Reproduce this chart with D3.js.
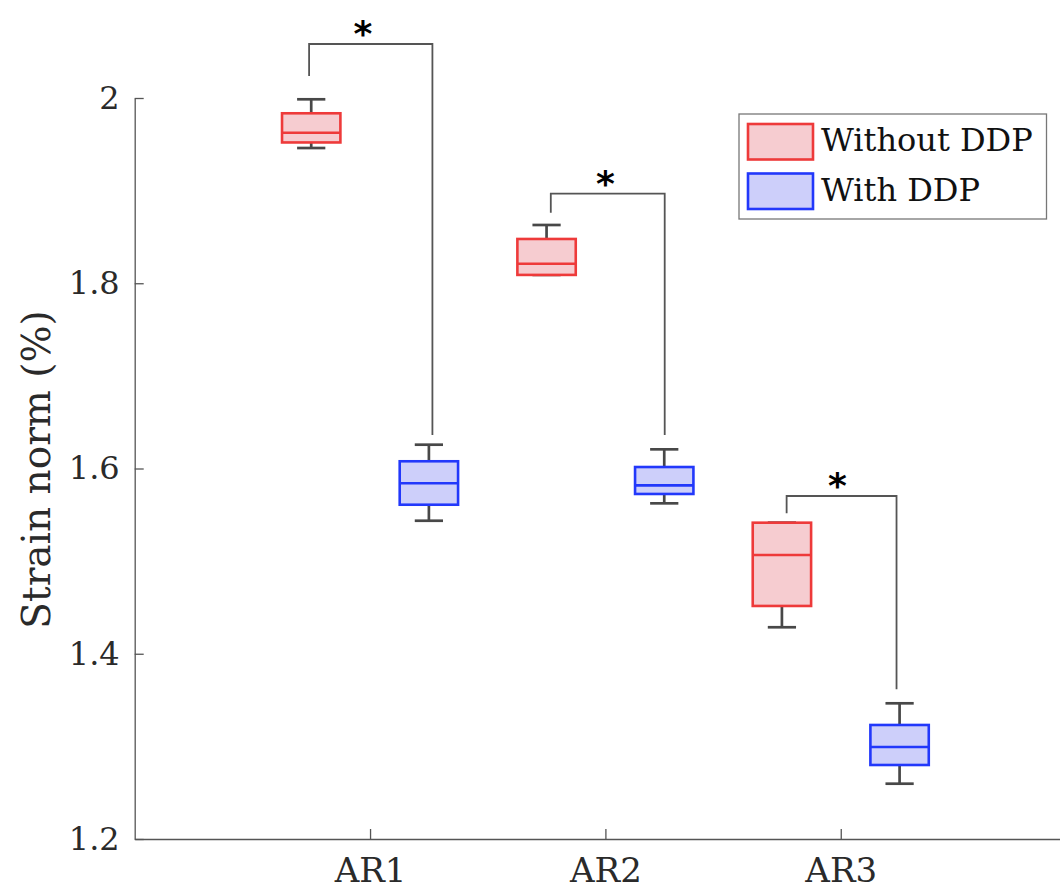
<!DOCTYPE html>
<html>
<head>
<meta charset="utf-8">
<script src="https://cdn.jsdelivr.net/npm/d3@7"></script>
<style>
  html, body { margin: 0; padding: 0; background: #fff; }
  svg { display: block; }
</style>
</head>
<body>
<svg id="chart" width="1060" height="890"></svg>
<script>
// ---- data ----
const categories = ["AR1", "AR2", "AR3"];
const seriesNames = ["Without DDP", "With DDP"];
// [lower whisker, Q1, median, Q3, upper whisker]
const withoutDDP = [
  [1.946, 1.952, 1.9625, 1.9835, 1.9986],
  [1.809, 1.809, 1.8211, 1.8478, 1.8629],
  [1.4286, 1.4516, 1.5066, 1.5415, 1.5415]
];
const withDDP = [
  [1.5436, 1.5609, 1.5840, 1.6078, 1.6257],
  [1.5624, 1.5725, 1.5818, 1.6016, 1.6207],
  [1.2597, 1.2799, 1.2993, 1.3231, 1.3465]
];
const yTicks = [1.2, 1.4, 1.6, 1.8, 2];
// significance brackets: x left, x right, top y, left end y, right end y, star x
const bracketLeft = [0.741, 1.768, 2.770];
const bracketRight = [1.265, 2.252, 3.237];
const bracketTop = [2.0583, 1.8967, 1.5703];
const bracketLeftEnd = [2.0238, 1.8762, 1.5516];
const bracketRightEnd = [1.6362, 1.6362, 1.3616];
const starX = [0.970, 2.0, 2.986];
const starLabel = "*";
const yLabel = "Strain norm (%)";

// ---- layout ----
const svg = d3.select("#chart");
const x = d3.scaleLinear().domain([0, 4]).range([134.7, 1076.1]);
const y = d3.scaleLinear().domain([1.2, 2]).range([839, 98]);
const offset = 0.25, boxW = 0.248, capW = 0.12;
const colors = [
  { edge: "#ee3a3a", fill: "#f6ccd0" },
  { edge: "#2238fb", fill: "#cdcffa" }
];
const serif = "'DejaVu Serif', 'Liberation Serif', serif";
const axisColor = "#555";

// axes
const yAxis = d3.axisLeft(y).tickValues(yTicks).tickFormat(d3.format("~g"))
  .tickSizeInner(-9).tickSizeOuter(0).tickPadding(16);
const gy = svg.append("g").attr("transform", `translate(${x(0)},0)`).call(yAxis);
gy.select(".domain").attr("stroke", axisColor).attr("stroke-width", 1.3);
gy.selectAll(".tick line").attr("stroke", axisColor).attr("stroke-width", 1.3);
gy.selectAll(".tick text").attr("font-family", serif).attr("font-size", 32)
  .attr("fill", "#2a2a2a").attr("x", -15);

const xAxis = d3.axisBottom(x).tickValues([1, 2, 3]).tickFormat(d => categories[d - 1])
  .tickSizeInner(-10).tickSizeOuter(0).tickPadding(0);
const gx = svg.append("g").attr("transform", `translate(0,${y(1.2)})`).call(xAxis);
gx.select(".domain").attr("stroke", axisColor).attr("stroke-width", 1.3);
gx.selectAll(".tick line").attr("stroke", axisColor).attr("stroke-width", 1.3);
gx.selectAll(".tick text").attr("font-family", serif).attr("font-size", 34)
  .attr("fill", "#2a2a2a").attr("y", 43).attr("dy", null);

// y label
svg.append("text")
  .attr("transform", `translate(50,${(y(1.2) + y(2)) / 2 + 1}) rotate(-90)`)
  .attr("text-anchor", "middle")
  .attr("font-family", serif).attr("font-size", 39).attr("fill", "#2a2a2a")
  .text(yLabel);

// brackets
categories.forEach((c, i) => {
  const path = d3.path();
  path.moveTo(x(bracketLeft[i]), y(bracketLeftEnd[i]));
  path.lineTo(x(bracketLeft[i]), y(bracketTop[i]));
  path.lineTo(x(bracketRight[i]), y(bracketTop[i]));
  path.lineTo(x(bracketRight[i]), y(bracketTop[i]) + 0);
  path.lineTo(x(bracketRight[i]), y(bracketRightEnd[i]));
  svg.append("path").attr("d", path.toString()).attr("fill", "none")
    .attr("stroke", "#555").attr("stroke-width", 1.8);
  svg.append("text")
    .attr("x", x(starX[i])).attr("y", y(bracketTop[i]) + 2)
    .attr("text-anchor", "middle")
    .attr("font-family", "'DejaVu Sans', sans-serif").attr("font-weight", "bold")
    .attr("font-size", 36).attr("fill", "#000")
    .text(starLabel);
});

// boxes
[withoutDDP, withDDP].forEach((series, s) => {
  series.forEach((st, i) => {
    const cx = (i + 1) + (s === 0 ? -offset : offset);
    const g = svg.append("g");
    const wc = "#484848";
    // whiskers
    g.append("line").attr("x1", x(cx)).attr("x2", x(cx)).attr("y1", y(st[4])).attr("y2", y(st[3]))
      .attr("stroke", wc).attr("stroke-width", 2.7);
    g.append("line").attr("x1", x(cx)).attr("x2", x(cx)).attr("y1", y(st[1])).attr("y2", y(st[0]))
      .attr("stroke", wc).attr("stroke-width", 2.7);
    [st[0], st[4]].forEach(v => {
      g.append("line").attr("x1", x(cx - capW / 2)).attr("x2", x(cx + capW / 2))
        .attr("y1", y(v)).attr("y2", y(v)).attr("stroke", wc).attr("stroke-width", 2.7);
    });
    // box
    g.append("rect")
      .attr("x", x(cx - boxW / 2)).attr("width", x(cx + boxW / 2) - x(cx - boxW / 2))
      .attr("y", y(st[3])).attr("height", y(st[1]) - y(st[3]))
      .attr("fill", colors[s].fill).attr("stroke", colors[s].edge).attr("stroke-width", 2.6);
    g.append("line").attr("x1", x(cx - boxW / 2)).attr("x2", x(cx + boxW / 2))
      .attr("y1", y(st[2])).attr("y2", y(st[2]))
      .attr("stroke", colors[s].edge).attr("stroke-width", 2.6);
  });
});

// legend
const lg = svg.append("g");
lg.append("rect").attr("x", 739).attr("y", 114).attr("width", 307.5).attr("height", 105)
  .attr("fill", "#fff").attr("stroke", "#777").attr("stroke-width", 1.3);
seriesNames.forEach((name, s) => {
  const top = 124 + s * 49.5;
  lg.append("rect").attr("x", 748).attr("y", top).attr("width", 65).attr("height", 35.5)
    .attr("fill", colors[s].fill).attr("stroke", colors[s].edge).attr("stroke-width", 2.6);
  lg.append("text").attr("x", 821).attr("y", top + 27)
    .attr("font-family", serif).attr("font-size", 32).attr("fill", "#111")
    .text(name);
});
</script>
</body>
</html>
